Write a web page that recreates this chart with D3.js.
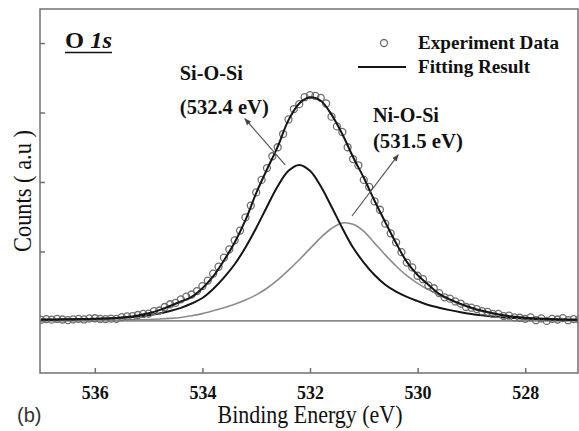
<!DOCTYPE html>
<html>
<head>
<meta charset="utf-8">
<script src="https://cdn.jsdelivr.net/npm/d3@7/dist/d3.min.js"></script>
<style>
  html, body { margin: 0; padding: 0; background: #fff; }
  svg { display: block; }
  svg text.serif { font-family: "Liberation Serif", "DejaVu Serif", Tinos, "Times New Roman", Times, FreeSerif, "Nimbus Roman", "Nimbus Roman No9 L", "Noto Serif", Georgia, serif !important; }
  svg text.sans { font-family: "Liberation Sans", Arial, Helvetica, sans-serif !important; }
</style>
</head>
<body>
<svg id="chart" width="579" height="431"></svg>
<script>
// O 1s XPS spectrum: measured counts and the two-component fit

// Binding energies of the measured points (eV)
const expEnergy = [
  537.0, 536.9, 536.8, 536.7, 536.6, 536.5, 536.4, 536.3, 536.2, 536.1,
  536.0, 535.9, 535.8, 535.7, 535.6, 535.5, 535.4, 535.3, 535.2, 535.1,
  535.0, 534.9, 534.8, 534.7, 534.6, 534.5, 534.4, 534.3, 534.2, 534.1,
  534.0, 533.9, 533.8, 533.7, 533.6, 533.5, 533.4, 533.3, 533.2, 533.1,
  533.0, 532.9, 532.8, 532.7, 532.6, 532.5, 532.4, 532.3, 532.2, 532.1,
  532.0, 531.9, 531.8, 531.7, 531.6, 531.5, 531.4, 531.3, 531.2, 531.1,
  531.0, 530.9, 530.8, 530.7, 530.6, 530.5, 530.4, 530.3, 530.2, 530.1,
  530.0, 529.9, 529.8, 529.7, 529.6, 529.5, 529.4, 529.3, 529.2, 529.1,
  529.0, 528.9, 528.8, 528.7, 528.6, 528.5, 528.4, 528.3, 528.2, 528.1,
  528.0, 527.9, 527.8, 527.7, 527.6, 527.5, 527.4, 527.3, 527.2, 527.1,
  527.0
];
// Measured counts (a.u.)
const expCounts = [
  0.015, 0.025, 0.018, 0.028, 0.020, 0.012, 0.022, 0.030, 0.021, 0.035,
  0.038, 0.028, 0.025, 0.032, 0.030, 0.055, 0.065, 0.070, 0.085, 0.100,
  0.105, 0.140, 0.150, 0.200, 0.240, 0.260, 0.310, 0.350, 0.380, 0.430,
  0.500, 0.580, 0.680, 0.780, 0.910, 1.030, 1.160, 1.300, 1.490, 1.660,
  1.850, 2.030, 2.200, 2.370, 2.500, 2.690, 2.900, 3.050, 3.120, 3.220,
  3.250, 3.240, 3.210, 3.130, 2.940, 2.800, 2.720, 2.500, 2.330, 2.240,
  2.030, 1.930, 1.720, 1.600, 1.400, 1.260, 1.130, 0.990, 0.840, 0.770,
  0.650, 0.600, 0.510, 0.470, 0.400, 0.340, 0.320, 0.280, 0.250, 0.200,
  0.190, 0.170, 0.140, 0.130, 0.100, 0.100, 0.070, 0.075, 0.050, 0.045,
  0.030, 0.050, 0.010, 0.035, 0.000, 0.030, 0.020, 0.040, 0.010, 0.025,
  0.020
];

// Binding energies of the fitted curves (eV)
const fitEnergy = [
  537.0, 536.8, 536.6, 536.4, 536.2, 536.0, 535.8, 535.6, 535.4, 535.2,
  535.0, 534.8, 534.6, 534.4, 534.2, 534.0, 533.8, 533.6, 533.4, 533.2,
  533.0, 532.8, 532.6, 532.4, 532.2, 532.0, 531.8, 531.6, 531.4, 531.2,
  531.0, 530.8, 530.6, 530.4, 530.2, 530.0, 529.8, 529.6, 529.4, 529.2,
  529.0, 528.8, 528.6, 528.4, 528.2, 528.0, 527.8, 527.6, 527.4, 527.2,
  527.0
];
// Overall fitting result
const fitTotal = [
  0.020, 0.020, 0.022, 0.024, 0.026, 0.030, 0.035, 0.042, 0.055, 0.078,
  0.110, 0.155, 0.215, 0.280, 0.345, 0.470, 0.640, 0.870, 1.130, 1.450,
  1.840, 2.180, 2.510, 2.890, 3.130, 3.220, 3.170, 2.970, 2.690, 2.360,
  2.060, 1.730, 1.420, 1.120, 0.850, 0.660, 0.520, 0.390, 0.310, 0.245,
  0.190, 0.145, 0.110, 0.080, 0.060, 0.045, 0.036, 0.028, 0.022, 0.018,
  0.015
];
// Si-O-Si component (532.4 eV)
const siOSi = [
  0.015, 0.017, 0.019, 0.021, 0.024, 0.028, 0.033, 0.040, 0.050, 0.064,
  0.083, 0.108, 0.142, 0.188, 0.250, 0.330, 0.460, 0.624, 0.816, 1.056,
  1.337, 1.644, 1.938, 2.161, 2.245, 2.161, 1.938, 1.644, 1.337, 1.056,
  0.840, 0.660, 0.520, 0.420, 0.345, 0.285, 0.230, 0.190, 0.155, 0.125,
  0.100, 0.080, 0.063, 0.050, 0.040, 0.032, 0.026, 0.021, 0.018, 0.016,
  0.014
];
// Ni-O-Si component (531.5 eV)
const niOSi = [
  0.008, 0.008, 0.009, 0.009, 0.010, 0.010, 0.011, 0.012, 0.014, 0.017,
  0.021, 0.027, 0.036, 0.050, 0.075, 0.105, 0.145, 0.190, 0.240, 0.300,
  0.375, 0.470, 0.590, 0.730, 0.880, 1.040, 1.200, 1.330, 1.410, 1.390,
  1.290, 1.120, 0.950, 0.790, 0.650, 0.540, 0.450, 0.370, 0.300, 0.235,
  0.180, 0.135, 0.100, 0.075, 0.057, 0.045, 0.036, 0.030, 0.025, 0.021,
  0.018
];

const xTickValues = [536, 534, 532, 530, 528];
const yTickValues = [0, 1, 2, 3, 4];

const plot = { left: 40, right: 578, top: 9, bottom: 373 };

const svg = d3.select("#chart");

const x = d3.scaleLinear().domain([537, 527]).range([41, 579]);
const y = d3.scaleLinear().domain([-0.75, 4.49]).range([plot.bottom, plot.top]);

const defs = svg.append("defs");
defs.append("clipPath").attr("id", "plotClip")
  .append("rect")
  .attr("x", plot.left).attr("y", plot.top)
  .attr("width", plot.right - plot.left).attr("height", plot.bottom - plot.top);

defs.append("marker")
  .attr("id", "arrowHead")
  .attr("viewBox", "0 0 10 10")
  .attr("refX", 9).attr("refY", 5)
  .attr("markerWidth", 7).attr("markerHeight", 7)
  .attr("markerUnits", "userSpaceOnUse")
  .attr("orient", "auto")
  .append("path")
  .attr("d", "M0,1 L10,5 L0,9 Z")
  .attr("fill", "#444");

const axisColor = "#707070";

// Text helper: serif text fitted to a set width
function label(parent, txt, px, py, size, opts = {}) {
  const t = parent.append("text")
    .attr("class", opts.cls || "serif")
    .attr("x", px).attr("y", py)
    .attr("font-size", size)
    .attr("font-weight", opts.weight || "bold")
    .attr("fill", opts.fill || "#111")
    .text(txt);
  if (opts.anchor) t.attr("text-anchor", opts.anchor);
  if (opts.width) t.attr("textLength", opts.width).attr("lengthAdjust", "spacingAndGlyphs");
  return t;
}

// Axes with inward ticks
const xAxis = d3.axisBottom(x).tickValues(xTickValues).tickSize(-5).tickSizeOuter(0)
  .tickPadding(13).tickFormat(d3.format("d"));
const gx = svg.append("g").attr("transform", `translate(0,${plot.bottom})`).call(xAxis);
gx.attr("font-family", null);
gx.select(".domain").remove();
gx.selectAll(".tick line").attr("stroke", axisColor).attr("stroke-width", 1.5);
gx.selectAll(".tick text")
  .attr("class", "serif")
  .attr("font-size", 18).attr("font-weight", "bold")
  .attr("textLength", 27).attr("lengthAdjust", "spacingAndGlyphs")
  .attr("fill", "#111");

const yAxis = d3.axisLeft(y).tickValues(yTickValues).tickSize(-5).tickSizeOuter(0).tickFormat("");
const gy = svg.append("g").attr("transform", `translate(${plot.left},0)`).call(yAxis);
gy.select(".domain").remove();
gy.selectAll(".tick line").attr("stroke", axisColor).attr("stroke-width", 1.5);

// Zero line
svg.append("line")
  .attr("x1", plot.left).attr("x2", plot.right)
  .attr("y1", y(0)).attr("y2", y(0))
  .attr("stroke", "#8a8a8a").attr("stroke-width", 1.8);

const curves = svg.append("g").attr("clip-path", "url(#plotClip)");
const lineGen = (vals) => d3.line()
  .x((d, i) => x(fitEnergy[i]))
  .y(d => y(d))
  .curve(d3.curveCatmullRom.alpha(0.5))(vals);

curves.append("path").attr("d", lineGen(niOSi))
  .attr("fill", "none").attr("stroke", "#8c8c8c").attr("stroke-width", 1.6);
curves.append("path").attr("d", lineGen(siOSi))
  .attr("fill", "none").attr("stroke", "#151515").attr("stroke-width", 2);

curves.selectAll("circle.exp")
  .data(expCounts)
  .join("circle")
  .attr("class", "exp")
  .attr("cx", (d, i) => x(expEnergy[i]))
  .attr("cy", d => y(d))
  .attr("r", 3.5)
  .attr("fill", "none")
  .attr("stroke", "#6e6e6e")
  .attr("stroke-width", 1.3);

curves.append("path").attr("d", lineGen(fitTotal))
  .attr("fill", "none").attr("stroke", "#151515").attr("stroke-width", 2);

// Frame
svg.append("rect")
  .attr("x", plot.left).attr("y", plot.top)
  .attr("width", plot.right - plot.left).attr("height", plot.bottom - plot.top)
  .attr("fill", "none").attr("stroke", axisColor).attr("stroke-width", 1.5);

// Title "O 1s", underlined
const title = svg.append("text")
  .attr("class", "serif")
  .attr("x", 65).attr("y", 48)
  .attr("font-size", 23).attr("font-weight", "bold")
  .attr("fill", "#111")
  .attr("textLength", 47).attr("lengthAdjust", "spacingAndGlyphs");
title.append("tspan").text("O ");
title.append("tspan").attr("font-style", "italic").text("1s");
svg.append("line")
  .attr("x1", 65).attr("x2", 112)
  .attr("y1", 52.5).attr("y2", 52.5)
  .attr("stroke", "#111").attr("stroke-width", 1.6);

// Legend
svg.append("circle").attr("cx", 384).attr("cy", 43).attr("r", 3.5)
  .attr("fill", "none").attr("stroke", "#6e6e6e").attr("stroke-width", 1.3);
label(svg, "Experiment Data", 418, 49, 19, { width: 141 });
svg.append("line").attr("x1", 358).attr("x2", 406).attr("y1", 67).attr("y2", 67)
  .attr("stroke", "#151515").attr("stroke-width", 2);
label(svg, "Fitting Result", 418, 73, 19, { width: 112 });

// Peak annotations (positioned in data coordinates)
const annotations = [
  { lines: ["Si-O-Si", "(532.4 eV)"], widths: [63, 89], at: [534.42, 3.47], dy: 34,
    from: [532.46, 2.245], to: [533.21, 2.91] },
  { lines: ["Ni-O-Si", "(531.5 eV)"], widths: [66, 90], at: [530.83, 2.86], dy: 26,
    from: [531.22, 1.51], to: [530.36, 2.39] }
];
annotations.forEach(a => {
  a.lines.forEach((t, k) => {
    label(svg, t, x(a.at[0]), y(a.at[1]) + k * a.dy, 20, { width: a.widths[k] });
  });
  svg.append("line")
    .attr("x1", x(a.from[0])).attr("y1", y(a.from[1]))
    .attr("x2", x(a.to[0])).attr("y2", y(a.to[1]))
    .attr("stroke", "#555").attr("stroke-width", 1.2)
    .attr("marker-end", "url(#arrowHead)");
});

// Axis titles
label(svg, "Binding Energy (eV)", 310, 423, 25, { weight: "normal", anchor: "middle", width: 185 });

label(svg, "Counts ( a.u )", 0, 0, 25, { weight: "normal", anchor: "middle", width: 122 })
  .attr("transform", "translate(31,191) rotate(-90)");

// Panel label
label(svg, "(b)", 17, 422, 20, { cls: "sans", weight: "normal", fill: "#333" });
</script>
</body>
</html>
